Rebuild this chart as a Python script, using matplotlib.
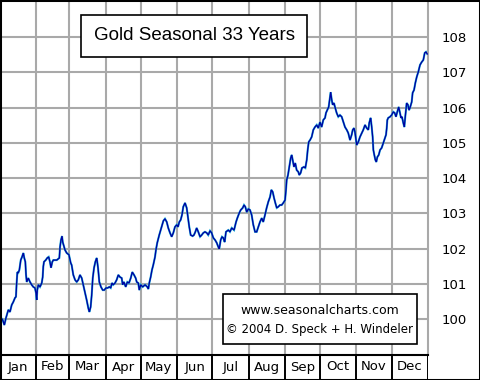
import matplotlib
matplotlib.use("Agg")
import matplotlib.pyplot as plt
from matplotlib.patches import Rectangle

title = "Gold Seasonal 33 Years"
credit_lines = ["www.seasonalcharts.com", "\u00a9 2004 D. Speck + H. Windeler"]
months = ["Jan", "Feb", "Mar", "Apr", "May", "Jun", "Jul", "Aug", "Sep", "Oct", "Nov", "Dec"]
month_days = [31, 28, 31, 30, 31, 30, 31, 31, 30, 31, 30, 31]
y_ticks = [100, 101, 102, 103, 104, 105, 106, 107, 108]

days = [1, 2.3, 3.7, 5.1, 7.1, 8.5, 10.0, 11.3, 12.8, 13.6, 14.2, 14.8, 15.6, 16.5, 17.7, 18.8, 19.9,
        20.7, 21.6, 22.2, 22.8, 24.1, 25.6, 27.0, 28.4, 29.8, 30.7, 31.3, 31.8, 32.7, 34.1, 35.6,
        36.4, 36.9, 37.5, 39.0, 40.3, 41.5, 42.6, 43.5, 44.6, 45.5, 48.4, 50.6, 51.2, 52.0, 52.9,
        53.5, 55.4, 56.9, 58.8, 60.3, 61.1, 62.5, 64.0, 65.4, 66.8, 68.2, 69.7, 71.0, 72.5, 73.9,
        75.3, 76.2, 77.3, 78.2, 79.1, 80.2, 81.3, 82.5, 83.6, 84.7, 86.1, 87.6, 88.9, 90.4, 91.8,
        93.2, 94.4, 95.5, 96.6, 98.1, 99.5, 100.9, 102.3, 103.8, 104.6, 105.7, 107.2, 108.6, 110.0,
        111.5, 112.8, 114.3, 115.7, 116.6, 117.9, 118.8, 120.0, 121.7, 123.7, 125.6, 126.5, 127.3,
        128.5, 129.6, 130.7, 132.2, 133.0, 134.1, 135.8, 137.0, 138.2, 139.3, 140.7, 142.2, 143.5,
        145.0, 146.4, 147.8, 149.2, 150.7, 151.8, 152.9, 154.1, 155.2, 156.3, 157.8, 159.2, 160.3,
        161.4, 162.6, 164.3, 165.4, 166.6, 167.7, 169.1, 170.6, 172.0, 173.4, 174.8, 176.3, 177.6,
        179.1, 180.5, 181.9, 183.4, 184.8, 186.2, 187.0, 188.2, 189.3, 190.4, 191.6, 192.7, 194.7,
        196.1, 197.6, 199.6, 201.3, 202.4, 204.1, 205.3, 207.0, 208.1, 209.2, 210.4, 211.8, 213.2,
        214.6, 216.0, 217.5, 218.9, 220.3, 221.7, 223.2, 224.5, 226.0, 227.4, 228.8, 230.3, 231.4,
        232.6, 233.7, 234.8, 236.0, 237.3, 238.8, 240.2, 241.6, 243.1, 243.9, 244.5, 245.6, 246.7,
        247.9, 248.8, 249.6, 250.7, 251.8, 253.0, 254.4, 255.2, 256.4, 257.5, 259.2, 260.4, 261.6,
        262.4, 263.3, 264.4, 265.8, 267.2, 268.6, 270.1, 271.4, 272.9, 274.3, 275.7, 277.2, 278.0,
        279.1, 280.3, 281.4, 282.0, 282.9, 283.7, 284.8, 285.9, 287.1, 288.5, 289.9, 291.4, 292.8,
        294.2, 295.7, 297.0, 298.5, 299.9, 300.8, 301.9, 302.7, 303.6, 304.2, 305.6, 307.0, 308.5,
        309.8, 311.3, 312.7, 314.1, 314.9, 316.1, 317.0, 317.8, 318.4, 319.2, 320.1, 320.9, 321.8,
        323.0, 324.1, 325.5, 326.9, 328.3, 329.2, 329.8, 330.3, 331.1, 332.6, 334.0, 335.4, 336.6,
        337.7, 338.8, 340.0, 341.1, 342.0, 342.8, 343.9, 344.8, 345.6, 346.8, 347.9, 348.8, 349.6,
        351.1, 351.9, 353.1, 354.2, 355.4, 356.7, 358.2, 359.6, 361.0, 362.2, 363.3, 364.4]

values = [100.04, 99.98, 99.84, 100.04, 100.27, 100.21, 100.41, 100.49, 100.61, 100.64, 101.03, 101.34,
          101.32, 101.40, 101.68, 101.77, 101.88, 101.74, 101.63, 101.26, 101.06, 101.17, 101.06, 100.98,
          100.92, 100.89, 100.75, 100.55, 100.83, 100.98, 100.92, 101.03, 101.20, 101.49, 101.63, 101.68,
          101.74, 101.77, 101.63, 101.46, 101.63, 101.68, 101.68, 101.74, 102.05, 102.25, 102.36, 102.19,
          101.97, 101.88, 101.83, 101.60, 101.54, 101.26, 101.12, 101.06, 101.12, 101.26, 101.17, 100.98,
          100.75, 100.55, 100.32, 100.21, 100.35, 100.69, 101.17, 101.46, 101.63, 101.74, 101.46, 101.06,
          100.92, 100.83, 100.83, 100.89, 100.89, 100.92, 100.89, 101.03, 100.98, 101.03, 101.12, 101.26,
          101.20, 101.17, 100.98, 101.06, 100.92, 101.06, 101.03, 101.17, 101.34, 101.26, 101.17, 101.06,
          101.03, 100.83, 100.98, 100.92, 100.98, 100.92, 100.86, 101.03, 101.20, 101.40, 101.54, 101.77,
          101.97, 102.17, 102.39, 102.53, 102.68, 102.79, 102.85, 102.76, 102.59, 102.45, 102.34, 102.45,
          102.62, 102.68, 102.62, 102.76, 102.82, 102.96, 103.19, 103.30, 103.16, 102.90, 102.62, 102.39,
          102.36, 102.39, 102.48, 102.59, 102.48, 102.34, 102.39, 102.45, 102.48, 102.45, 102.39, 102.51,
          102.45, 102.31, 102.25, 102.17, 102.05, 102.00, 102.25, 102.34, 102.31, 102.19, 102.48, 102.53,
          102.48, 102.59, 102.53, 102.76, 102.87, 103.02, 103.10, 103.16, 103.24, 103.19, 103.04, 103.13,
          103.10, 102.96, 102.68, 102.48, 102.48, 102.62, 102.76, 102.87, 102.76, 102.96, 103.16, 103.33,
          103.47, 103.67, 103.61, 103.44, 103.30, 103.16, 103.19, 103.24, 103.24, 103.30, 103.38, 103.67,
          103.95, 104.09, 104.32, 104.57, 104.66, 104.52, 104.32, 104.43, 104.23, 104.18, 104.09, 104.15,
          104.29, 104.32, 104.29, 104.52, 104.80, 105.03, 105.08, 105.17, 105.37, 105.45, 105.51, 105.42,
          105.59, 105.45, 105.65, 105.71, 105.85, 105.93, 106.02, 106.30, 106.44, 106.22, 106.08, 106.13,
          105.99, 105.85, 105.74, 105.79, 105.74, 105.59, 105.45, 105.37, 105.28, 105.08, 105.23, 105.37,
          105.42, 105.31, 105.08, 104.94, 105.03, 105.17, 105.28, 105.37, 105.51, 105.42, 105.37, 105.57,
          105.71, 105.45, 105.17, 104.80, 104.66, 104.52, 104.46, 104.60, 104.66, 104.80, 104.86, 105.00,
          105.14, 105.23, 105.42, 105.65, 105.71, 105.74, 105.79, 105.88, 105.85, 105.74, 105.88, 106.02,
          105.85, 105.71, 105.74, 105.57, 105.45, 105.74, 106.13, 106.08, 105.93, 105.99, 106.16, 106.42,
          106.50, 106.70, 106.87, 107.01, 107.21, 107.29, 107.35, 107.55, 107.58, 107.52]

W, H = 480, 380
fig = plt.figure(figsize=(W / 100, H / 100), dpi=100)
fig.patch.set_facecolor("white")

bounds = [0]
for m in month_days:
    bounds.append(bounds[-1] + m)

grid_c = "#a9a9a9"
ax = fig.add_axes([0, 25 / H, 428 / W, 355 / H])
ax.set_xlim(0, 365)
ax.set_ylim(98.99, 109.05)
for b in bounds[1:-1]:
    ax.axvline(b, color=grid_c, lw=1.5, zorder=1)
for t in y_ticks:
    ax.axhline(t, color=grid_c, lw=1.5, zorder=1)
ax.plot(days, values, color="#22b4dc", lw=1.5, zorder=2, solid_joinstyle="miter")
ax.plot(days, values, color="#0000a0", lw=0.95, zorder=3, solid_joinstyle="miter")
ax.set_xticks([])
ax.yaxis.tick_right()
ax.set_yticks(y_ticks)
ax.set_yticklabels([str(t) for t in y_ticks], fontsize=9.5, family="DejaVu Sans")
ax.tick_params(axis="y", length=0, pad=9.5)
ax.spines["left"].set_color("black")
ax.spines["top"].set_color("black")
ax.spines["bottom"].set_color("black")
ax.spines["right"].set_color(grid_c)
for s in ax.spines.values():
    s.set_linewidth(1.5)

# title box
ax.add_patch(Rectangle((81 / 428, 1 - 57 / 355), (307 - 81) / 428, 42 / 355, transform=ax.transAxes,
                       facecolor="white", edgecolor="black", lw=1.2, zorder=5))
ax.text((81 + 307) / 2 / 428, 1 - 36 / 355, title, transform=ax.transAxes, ha="center", va="center",
        fontsize=13.5, family="Liberation Sans", zorder=6)

# credit box
ax.add_patch(Rectangle((223 / 428, 1 - 344 / 355), (417 - 223) / 428, 50 / 355, transform=ax.transAxes,
                       facecolor="white", edgecolor="black", lw=1.2, zorder=5))
ax.text(320 / 428, 1 - 311 / 355, credit_lines[0], transform=ax.transAxes, ha="center", va="center",
        fontsize=9, family="DejaVu Sans", zorder=6)
ax.text(320 / 428, 1 - 329 / 355, credit_lines[1], transform=ax.transAxes, ha="center", va="center",
        fontsize=8.5, family="DejaVu Sans", zorder=6)

# month row
mx = fig.add_axes([0, 1 / H, 428 / W, 24 / H])
mx.set_xlim(0, 365)
mx.set_ylim(0, 1)
mx.axis("off")
for b in bounds[1:]:
    mx.axvline(b, color="black", lw=1.4)
for i, name in enumerate(months):
    mx.text((bounds[i] + bounds[i + 1]) / 2, 0.5, name, ha="center", va="center",
            fontsize=9.5, family="DejaVu Sans")

fig.patches.append(Rectangle((0, 0), 1, 1, transform=fig.transFigure, fill=False,
                             edgecolor="black", lw=2.2, zorder=10))

fig.savefig("out.png", dpi=100, facecolor="white")
